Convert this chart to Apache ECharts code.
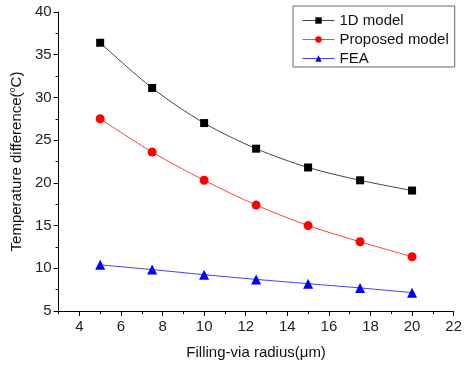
<!DOCTYPE html>
<html><head><meta charset="utf-8">
<script src="https://cdn.jsdelivr.net/npm/echarts@6/dist/echarts.min.js"></script>
<style>html,body{margin:0;padding:0;background:#fff}#c{width:465px;height:365px}</style>
</head><body><div id="c"></div>
<script>
const radius = [5, 7.5, 10, 12.5, 15, 17.5, 20];
const model1D = [36.4, 31.1, 27.0, 24.0, 21.8, 20.3, 19.1];
const proposed = [27.5, 23.6, 20.3, 17.4, 15.0, 13.1, 11.35];
const fea = [10.4, 9.85, 9.25, 8.7, 8.2, 7.7, 7.15];
const xMajorTicks = [4, 6, 8, 10, 12, 14, 16, 18, 20, 22];
const xMinorTicks = [3, 5, 7, 9, 11, 13, 15, 17, 19, 21];
const seriesNames = ['1D model', 'Proposed model', 'FEA'];

const pair = (ys) => radius.map((x, i) => [x, ys[i]]);
const font = 'Arial, "Liberation Sans", sans-serif';
const chart = echarts.init(document.getElementById('c'), null, {renderer: 'canvas'});
chart.setOption({
  animation: false,
  backgroundColor: '#fff',
  grid: {left: 56, top: 12, right: 8, bottom: 54},
  legend: {
    orient: 'vertical', left: 293, top: 6,
    data: seriesNames,
    itemWidth: 32, itemHeight: 8, itemGap: 4,
    borderColor: '#666', borderWidth: 1,
    padding: [7, 6, 1, 9],
    lineStyle: {width: 1},
    textStyle: {fontFamily: font, fontSize: 15, color: '#111'}
  },
  xAxis: [{
    type: 'value', min: 3, max: 22,
    name: 'Filling-via radius(\u03bcm)', nameLocation: 'middle', nameGap: 34,
    nameTextStyle: {fontFamily: font, fontSize: 15, color: '#111'},
    axisLine: {lineStyle: {color: '#000', width: 1}},
    axisTick: {customValues: xMajorTicks, length: 5, lineStyle: {color: '#000'}},
    axisLabel: {customValues: xMajorTicks, fontFamily: font, fontSize: 15, color: '#222', margin: 8},
    splitLine: {show: false}
  }, {
    type: 'value', min: 3, max: 22, position: 'bottom',
    axisLine: {show: false},
    axisTick: {customValues: xMinorTicks, length: 3, lineStyle: {color: '#000'}},
    axisLabel: {show: false},
    splitLine: {show: false}
  }],
  yAxis: {
    type: 'value', min: 5, max: 40, interval: 5,
    name: '{n|Temperature difference(}{s|o}{n|C)}', nameLocation: 'middle', nameGap: 32,
    nameTextStyle: {
      rich: {
        n: {fontFamily: font, fontSize: 15, color: '#111'},
        s: {fontFamily: font, fontSize: 9, color: '#111', verticalAlign: 'top', padding: [0, 0, 8, 0]}
      }
    },
    axisLine: {show: true, lineStyle: {color: '#000', width: 1}},
    axisTick: {length: 5, lineStyle: {color: '#000'}},
    minorTick: {show: true, splitNumber: 2, length: 3, lineStyle: {color: '#000'}},
    axisLabel: {fontFamily: font, fontSize: 15, color: '#222', margin: 7},
    splitLine: {show: false}
  },
  series: [
    {name: seriesNames[0], type: 'line', data: pair(model1D), smooth: 0.3,
     symbol: 'rect', symbolSize: 8,
     lineStyle: {color: '#444', width: 1}, itemStyle: {color: '#000'}},
    {name: seriesNames[1], type: 'line', data: pair(proposed), smooth: 0.3,
     symbol: 'circle', symbolSize: 9,
     lineStyle: {color: '#ff4040', width: 1}, itemStyle: {color: '#ff0000'}},
    {name: seriesNames[2], type: 'line', data: pair(fea), smooth: 0.3,
     symbol: 'triangle', symbolSize: 10,
     lineStyle: {color: '#4040ff', width: 1}, itemStyle: {color: '#0000ff'}}
  ]
});
</script></body></html>
